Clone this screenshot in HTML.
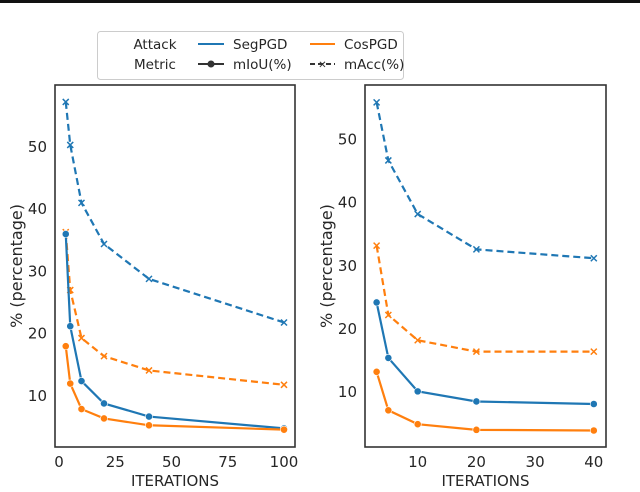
<!DOCTYPE html>
<html><head><meta charset="utf-8"><style>
body{margin:0;background:#fff;width:640px;height:487px;overflow:hidden}
svg{font-family:"DejaVu Sans","Liberation Sans",sans-serif}
</style></head><body>
<svg id="c" width="640" height="487" xmlns="http://www.w3.org/2000/svg">
<rect x="0" y="0" width="640" height="3" fill="#111"/>
<g>
<rect x="97.5" y="31.5" width="306" height="48" rx="3" fill="#fff" stroke="#ccc"/>
<text x="155" y="49" font-size="13.5" text-anchor="middle" fill="#262626">Attack</text>
<text x="155" y="69" font-size="13.5" text-anchor="middle" fill="#262626">Metric</text>
<line x1="198" y1="44" x2="224" y2="44" stroke="#1f77b4" stroke-width="2"/>
<text x="233" y="49" font-size="13.5" fill="#262626">SegPGD</text>
<line x1="310" y1="44" x2="335" y2="44" stroke="#ff7f0e" stroke-width="2"/>
<text x="344" y="49" font-size="13.5" fill="#262626">CosPGD</text>
<line x1="198" y1="64" x2="224" y2="64" stroke="#333" stroke-width="2"/>
<circle cx="211" cy="64" r="3.5" fill="#333"/>
<text x="233" y="69" font-size="13.5" fill="#262626">mIoU(%)</text>
<line x1="310" y1="64" x2="335" y2="64" stroke="#333" stroke-width="2" stroke-dasharray="5,3"/>
<text x="322.5" y="68" font-size="10" text-anchor="middle" fill="#333">✕</text>
<text x="344" y="69" font-size="13.5" fill="#262626">mAcc(%)</text>
</g>
</svg>
<script>
const leftIters=[3,5,10,20,40,100];
const leftSegMacc=[57.2,50.3,41,34.4,28.8,21.8];
const leftCosMacc=[36.3,27,19.3,16.4,14.1,11.8];
const leftSegMiou=[36,21.2,12.4,8.8,6.7,4.8];
const leftCosMiou=[18,12,7.9,6.4,5.3,4.6];
const leftXTicks=[0,25,50,75,100];
const rightIters=[3,5,10,20,40];
const rightSegMacc=[55.9,46.7,38.2,32.6,31.2];
const rightCosMacc=[33.2,22.2,18.2,16.4,16.4];
const rightSegMiou=[24.2,15.4,10.1,8.5,8.1];
const rightCosMiou=[13.2,7.1,4.9,4.0,3.9];
const rightXTicks=[10,20,30,40];
const yTicks=[10,20,30,40,50];

const NS='http://www.w3.org/2000/svg';
const svg=document.getElementById('c');
function mk(tag,attrs,parent){const e=document.createElementNS(NS,tag);for(const k in attrs)e.setAttribute(k,attrs[k]);(parent||svg).appendChild(e);return e;}

function panel(name,box,xs,ys,iters,series,xTicks){
  const g=mk('g',{});
  
  
  const X=v=>xs.p0+(v-xs.v0)*xs.k, Y=v=>ys.p0-(v-ys.v0)*ys.k;
  series.forEach(s=>{
    const sg=mk('g',{},g);
    
    
    const pts=s.vals.map((v,i)=>X(iters[i])+','+Y(v)).join(' ');
    const pl=mk('polyline',{points:pts,fill:'none',stroke:s.color,'stroke-width':2.2,'stroke-dasharray':s.dash?'7,4':'none'},sg);
    
    
    s.vals.forEach((v,i)=>{
      const cx=X(iters[i]),cy=Y(v);
      let m;
      if(s.dash){m=mk('path',{d:`M${cx-3},${cy-3}L${cx+3},${cy+3}M${cx-3},${cy+3}L${cx+3},${cy-3}`,stroke:s.color,'stroke-width':1.5},sg);}
      else{m=mk('circle',{cx,cy,r:3.6,fill:s.color,stroke:'#fff','stroke-width':0.6},sg);}
      
      
    });
  });
  const fr=mk('rect',{x:box.x,y:box.y,width:box.w,height:box.h,fill:'none',stroke:'#333','stroke-width':1.6},g);
  
  
  xTicks.forEach(t=>{const e=mk('text',{x:X(t),y:box.y+box.h+20,'font-size':15,'text-anchor':'middle',fill:'#262626'},g);e.textContent=t;
    });
  yTicks.forEach(t=>{const e=mk('text',{x:box.x-8,y:Y(t)+5,'font-size':15,'text-anchor':'end',fill:'#262626'},g);e.textContent=t;
    });
  const xl=mk('text',{x:box.x+box.w/2,y:486,'font-size':15,'text-anchor':'middle',fill:'#262626'},g);xl.textContent='ITERATIONS';
  
  const yx=box.x-33,yy=box.y+box.h/2;
  const yl=mk('text',{x:yx,y:yy,'font-size':16,'text-anchor':'middle',fill:'#262626',transform:`rotate(-90 ${yx} ${yy})`},g);yl.textContent='% (percentage)';
  
}
const B='#1f77b4',O='#ff7f0e';
panel('left-panel',{x:55,y:85,w:240,h:362},{p0:59,v0:0,k:2.25},{p0:396,v0:10,k:6.23},leftIters,[
 {name:'left-segpgd-macc',vals:leftSegMacc,color:B,dash:true},
 {name:'left-cospgd-macc',vals:leftCosMacc,color:O,dash:true},
 {name:'left-segpgd-miou',vals:leftSegMiou,color:B,dash:false},
 {name:'left-cospgd-miou',vals:leftCosMiou,color:O,dash:false}],leftXTicks);
panel('right-panel',{x:365,y:85,w:241,h:362},{p0:359,v0:0,k:5.87},{p0:392,v0:10,k:6.31},rightIters,[
 {name:'right-segpgd-macc',vals:rightSegMacc,color:B,dash:true},
 {name:'right-cospgd-macc',vals:rightCosMacc,color:O,dash:true},
 {name:'right-segpgd-miou',vals:rightSegMiou,color:B,dash:false},
 {name:'right-cospgd-miou',vals:rightCosMiou,color:O,dash:false}],rightXTicks);
</script>
</body></html>
